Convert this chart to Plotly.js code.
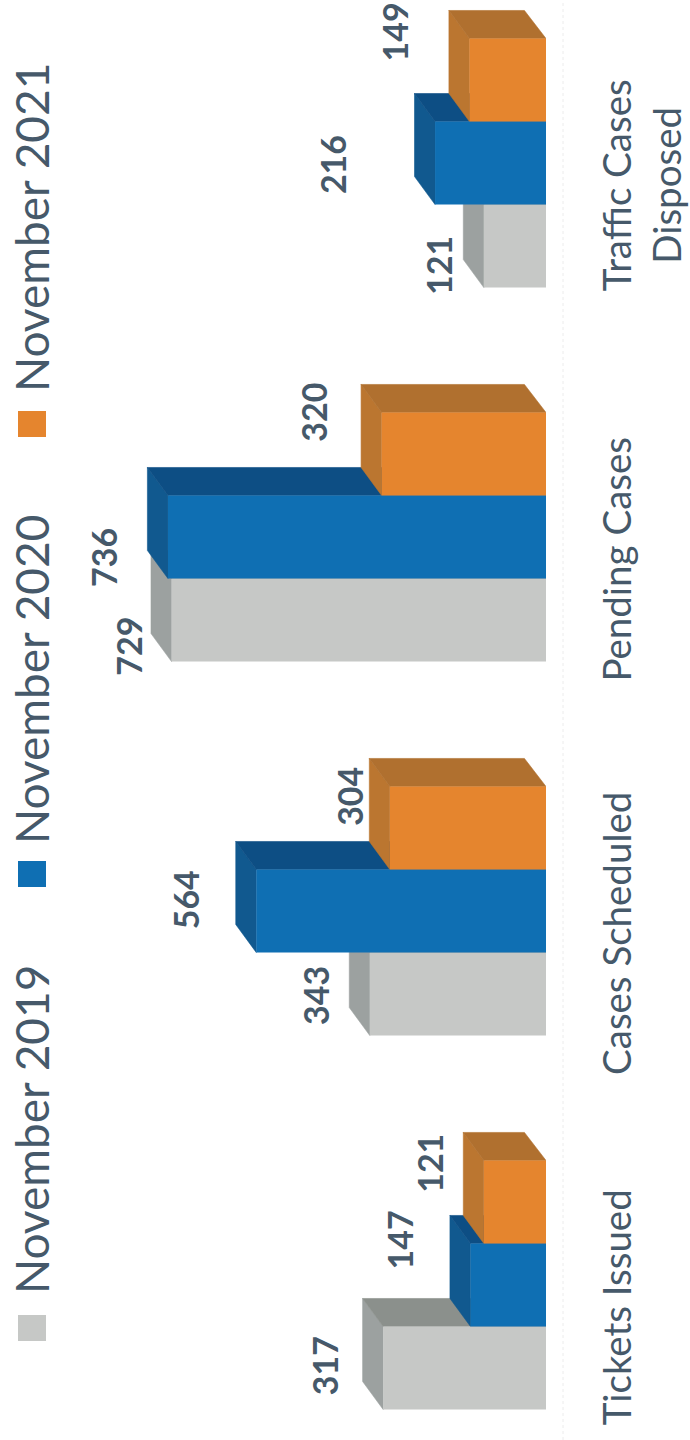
<!DOCTYPE html>
<html><head><meta charset="utf-8">
<script src="https://cdn.plot.ly/plotly-3.0.1.min.js"></script>
<style>html,body{margin:0;padding:0;background:#fff}</style>
</head><body><div id="chart" style="width:690px;height:1440px"></div>
<script>
const categories = ["Tickets Issued","Cases Scheduled","Pending Cases","Traffic Cases<br>Disposed"];
const seriesNames = ["November 2019","November 2020","November 2021"];
const nov2019 = [317,343,729,121];
const nov2020 = [147,564,736,216];
const nov2021 = [121,304,320,149];

// styling / placement (not data)
const frontColors = ["#c6c8c6","#0f6fb3","#e5852e"];
const sideColors  = ["#9ca1a0","#11598f","#bb7630"];
const topColors   = ["#8b908c","#0d4e84","#b0702f"];
const textColor = "#46596a";
const FONT = "Lato, Carlito, sans-serif";
const BAR_GAP = 0.334, DEPTH_X = 40, DEPTH_Y = 0.075;
const X_RANGE = [1063, 0], Y_RANGE = [-0.4144, 3.436];
const PLOT_W = 546;
const labelShiftX = [[-59,-55,-43,-46],[-71,-71,-65,-103],[-54,-41,-69,-75]];
const labelShiftY = [[2,-1,-26,-19],[45,11,-20,-2],[39,32,42,48]];
const legendCenters = [1130,680,228];
const swatchCenters = [1328,874,424];

const seriesValues = [nov2019,nov2020,nov2021];
const positions = categories.map((_,i)=>i);
const barW = (1-BAR_GAP)/3;

const traces = [];
seriesValues.forEach((vals,s)=>{
  const side={x:[],y:[]}, top={x:[],y:[]};
  vals.forEach((v,i)=>{
    const lo = i + (s-1.5)*barW, hi = lo + barW;
    side.x.push(v,v,v+DEPTH_X,v+DEPTH_X,v,null);
    side.y.push(hi,lo,lo+DEPTH_Y,hi+DEPTH_Y,hi,null);
    top.x.push(v,0,DEPTH_X+2,v+DEPTH_X,v,null);
    top.y.push(hi,hi,hi+DEPTH_Y,hi+DEPTH_Y,hi,null);
  });
  [[side,sideColors[s]],[top,topColors[s]]].forEach(([p,c])=>traces.push({
    type:"scatter",mode:"lines",x:p.x,y:p.y,fill:"toself",fillcolor:c,
    line:{width:0.6,color:c},hoverinfo:"skip",showlegend:false
  }));
});
seriesValues.forEach((vals,s)=>traces.push({
  type:"bar",orientation:"h",name:seriesNames[s],x:vals,y:positions,
  xaxis:"x2",yaxis:"y2",marker:{color:frontColors[s],line:{width:0}},showlegend:false
}));

const annotations = [];
seriesValues.forEach((vals,s)=>vals.forEach((v,i)=>annotations.push({
  xref:"x",yref:"y",x:v,y:i+(s-1)*barW,text:String(v),showarrow:false,textangle:-90,
  xanchor:"center",yanchor:"middle",xshift:labelShiftX[s][i],yshift:labelShiftY[s][i],
  font:{family:FONT,size:34,color:textColor,weight:"bold"}
})));
seriesNames.forEach((n,s)=>annotations.push({
  xref:"paper",yref:"paper",x:31/PLOT_W,y:1-legendCenters[s]/1440,text:n,showarrow:false,textangle:-90,
  xanchor:"center",yanchor:"middle",font:{family:FONT,size:46,color:textColor}
}));

const shapes = seriesNames.map((n,s)=>({
  type:"rect",xref:"paper",yref:"paper",layer:"above",
  x0:18/PLOT_W,x1:46/PLOT_W,y0:1-(swatchCenters[s]+13)/1440,y1:1-(swatchCenters[s]-13)/1440,
  fillcolor:frontColors[s],line:{width:0}
}));
shapes.push({type:"line",xref:"paper",yref:"paper",x0:563/PLOT_W,x1:563/PLOT_W,y0:0,y1:1,
  line:{color:"#ececec",width:1,dash:"dot"},layer:"below"});

const layout = {
  width:690,height:1440,paper_bgcolor:"#fff",plot_bgcolor:"rgba(0,0,0,0)",
  margin:{l:0,r:690-PLOT_W,t:0,b:0},barmode:"group",bargap:BAR_GAP,bargroupgap:0,
  showlegend:false,font:{family:FONT,color:textColor},
  xaxis:{range:X_RANGE,visible:false,fixedrange:true},
  yaxis:{range:Y_RANGE,side:"right",tickmode:"array",tickvals:positions.map(p=>p-0.075),ticktext:categories,
    tickangle:-90,showgrid:false,zeroline:false,showline:false,ticks:"",ticklabelstandoff:45,
    tickfont:{family:FONT,size:38.5,color:textColor},fixedrange:true},
  xaxis2:{range:X_RANGE,overlaying:"x",visible:false,fixedrange:true},
  yaxis2:{range:Y_RANGE,overlaying:"y",visible:false,fixedrange:true},
  annotations,shapes
};
Plotly.newPlot("chart",traces,layout,{staticPlot:true,displayModeBar:false});
</script></body></html>
